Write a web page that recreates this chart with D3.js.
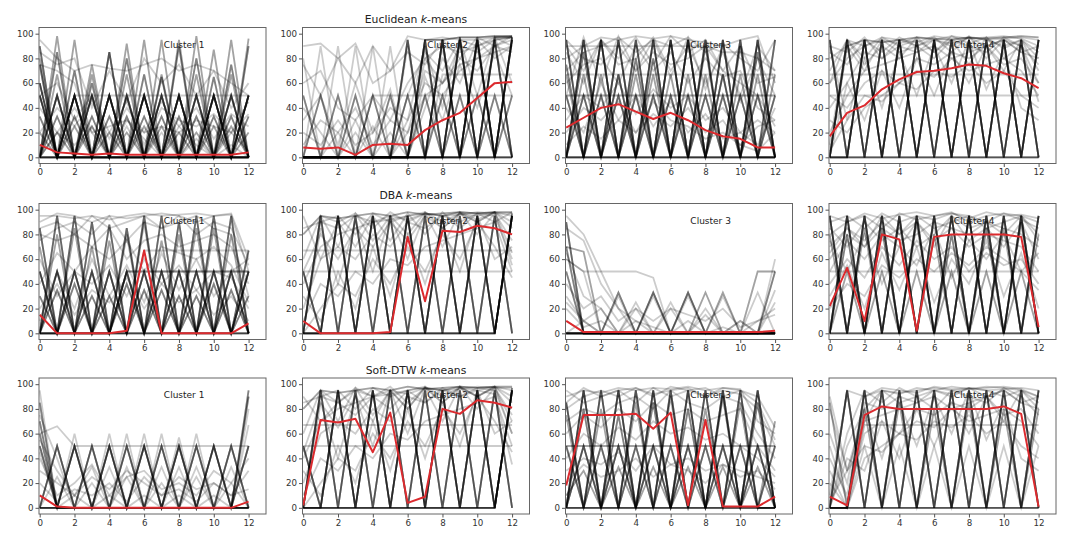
<!DOCTYPE html>
<html>
<head>
<meta charset="utf-8">
<script src="https://cdn.jsdelivr.net/npm/d3@7"></script>
<style>
  body { margin: 0; background: #fff; }
  text { font-family: "DejaVu Sans", sans-serif; }
</style>
</head>
<body>
<div id="chart"></div>
<script>
// time steps and tick labels
const steps = [0,1,2,3,4,5,6,7,8,9,10,11,12];
const xTicks = [0,2,4,6,8,10,12];
const yTicks = [0,20,40,60,80,100];
const rowNames = ["Euclidean", "DBA", "Soft-DTW"];
const clusterNames = ["Cluster 1", "Cluster 2", "Cluster 3", "Cluster 4"];

// shapes that many members share
const allZero = [0,0,0,0,0,0,0,0,0,0,0,0,0];
const allHalf = [50,50,50,50,50,50,50,50,50,50,50,50,50];
const allTwoThirds = [67,67,67,67,67,67,67,67,67,67,67,67,67];
const upZig95 = [0,95,0,95,0,95,0,95,0,95,0,95,0];
const downZig95 = [95,0,95,0,95,0,95,0,95,0,95,0,95];
const upZig50 = [0,50,0,50,0,50,0,50,0,50,0,50,0];
const downZig50 = [50,0,50,0,50,0,50,0,50,0,50,0,50];

// cluster members: n = how many series share the shape
const euclid1 = [
  {n:8, v:allZero}, {n:7, v:upZig50}, {n:7, v:downZig50},
  {n:4, v:[90,0,50,0,50,0,50,0,50,0,50,0,50]},
  {n:4, v:[75,0,0,0,0,0,0,0,0,0,0,0,0]},
  {n:3, v:[60,0,0,0,0,0,0,0,0,0,0,0,0]},
  {n:1, v:[0,0,50,50,50,50,50,50,50,50,50,50,50]},
  {n:2, v:[0,98,0,75,0,92,0,95,0,98,0,95,0]},
  {n:2, v:[80,0,95,0,85,0,95,0,95,0,87,0,96]},
  {n:3, v:[0,85,0,60,0,80,0,65,0,80,0,75,0]},
  {n:3, v:[60,0,70,0,85,0,67,0,90,0,65,0,90]},
  {n:2, v:[0,67,0,67,0,67,0,67,0,67,0,67,0]},
  {n:3, v:[0,33,0,33,0,33,0,33,0,33,0,33,0]},
  {n:3, v:[33,0,33,0,33,0,33,0,33,0,33,0,33]},
  {n:2, v:[0,20,0,25,0,20,0,25,0,20,0,25,0]},
  {n:2, v:[20,0,25,0,20,0,25,0,20,0,25,0,20]},
  {n:1, v:[40,20,40,20,25,30,20,25,20,30,25,20,35]},
  {n:1, v:[95,80,70,75,72,70,75,80,70,75,70,60,50]},
  {n:1, v:[75,70,60,20,0,25,0,20,0,15,0,10,0]},
  {n:1, v:[0,20,10,25,0,30,15,0,25,10,0,20,5]},
  {n:1, v:[50,60,30,50,20,45,10,40,30,25,35,20,45]},
  {n:1, v:[85,75,80,40,70,45,80,60,75,50,70,40,60]},
  {n:1, v:[20,40,25,45,15,40,20,45,25,40,15,35,25]}
];
const euclid2 = [
  {n:6, v:allZero},
  {n:5, v:[0,0,0,0,0,0,0,95,0,95,0,95,0]},
  {n:5, v:[0,0,0,0,0,0,95,0,95,0,95,0,95]},
  {n:3, v:[0,0,0,0,0,0,0,0,95,0,95,0,97]},
  {n:3, v:[0,0,0,0,0,0,0,0,0,97,0,97,97]},
  {n:3, v:[0,0,0,0,0,0,0,0,0,0,97,0,97]},
  {n:3, v:[0,0,0,0,0,0,0,95,95,97,97,98,98]},
  {n:3, v:downZig50}, {n:3, v:upZig50},
  {n:1, v:[80,0,90,0,90,0,90,0,90,0,90,0,95]},
  {n:1, v:[0,90,0,90,0,90,0,90,0,97,0,97,0]},
  {n:1, v:[90,92,80,92,60,70,98,95,97,95,95,97,98]},
  {n:1, v:[60,70,40,30,50,30,60,80,90,85,90,95,97]},
  {n:1, v:[20,10,30,10,20,40,30,60,50,70,80,85,90]},
  {n:1, v:[10,30,20,40,10,30,20,50,60,80,70,90,95]},
  {n:1, v:[0,0,0,30,0,0,20,70,60,75,80,90,85]},
  {n:1, v:[40,20,0,20,0,20,0,40,80,60,95,80,90]},
  {n:1, v:[0,0,20,0,25,0,30,90,40,95,50,97,60]},
  {n:1, v:[0,0,0,0,50,50,50,50,50,50,50,50,50]},
  {n:1, v:[0,0,0,0,0,0,0,0,67,67,67,67,67]},
  {n:1, v:[75,50,80,60,90,70,85,75,95,80,97,90,98]},
  {n:1, v:[30,50,10,60,20,55,0,65,30,75,40,85,50]},
  {n:1, v:[0,0,0,0,0,0,0,80,60,90,85,95,97]},
  {n:1, v:[0,0,0,0,0,0,50,85,70,95,90,97,90]}
];
const euclid3 = [
  {n:6, v:allZero}, {n:6, v:upZig95},
  {n:5, v:[95,0,95,0,95,0,95,0,95,0,95,0,0]},
  {n:4, v:upZig50}, {n:4, v:downZig50},
  {n:1, v:[90,90,90,90,90,90,90,90,90,85,85,80,70]},
  {n:1, v:allTwoThirds}, {n:2, v:allHalf},
  {n:1, v:[80,90,97,95,98,96,98,95,93,90,95,98,60]},
  {n:1, v:[70,85,90,97,85,95,90,97,85,92,80,70,95]},
  {n:1, v:[95,80,75,90,70,85,75,80,90,70,60,50,25]},
  {n:1, v:[60,75,80,60,90,70,85,60,80,65,70,40,30]},
  {n:1, v:[85,60,95,75,80,97,70,90,60,85,50,90,70]},
  {n:1, v:[30,50,40,60,35,55,40,50,30,40,20,30,20]},
  {n:1, v:[20,40,30,45,20,35,25,40,20,30,10,25,30]},
  {n:1, v:[40,20,60,30,50,25,45,20,35,15,20,10,40]},
  {n:1, v:[10,25,15,30,20,45,30,25,15,20,10,5,20]},
  {n:3, v:[0,85,0,67,0,80,0,95,0,67,0,85,0]},
  {n:3, v:[75,0,95,0,80,0,95,0,90,0,90,0,95]},
  {n:2, v:[0,67,0,67,0,67,0,67,0,67,0,67,0]},
  {n:2, v:[67,0,67,0,67,0,67,0,67,0,67,0,67]},
  {n:1, v:[0,0,0,0,0,0,0,0,0,0,0,0,95]},
  {n:1, v:[50,97,60,98,70,95,65,97,55,90,45,80,50]},
  {n:1, v:[90,70,95,80,97,75,98,85,95,70,90,60,65]}
];
const euclid4 = [
  {n:5, v:allZero}, {n:7, v:upZig95}, {n:6, v:downZig95},
  {n:2, v:[0,90,95,93,95,97,96,95,97,96,97,98,97]},
  {n:1, v:[10,95,90,97,95,93,98,96,97,95,96,97,95]},
  {n:1, v:[60,80,90,95,92,97,95,98,96,97,98,96,90]},
  {n:1, v:[40,60,85,80,90,85,95,90,97,95,90,95,85]},
  {n:1, v:[20,50,70,75,80,85,90,80,85,90,95,85,80]},
  {n:1, v:[80,90,70,95,85,90,80,95,90,85,97,90,75]},
  {n:1, v:[50,40,60,70,60,80,75,85,80,90,75,80,60]},
  {n:1, v:[30,20,40,50,60,70,65,80,70,75,80,70,50]},
  {n:1, v:allTwoThirds}, {n:1, v:allHalf},
  {n:1, v:[0,60,30,70,40,80,50,85,60,90,70,95,80]},
  {n:1, v:[90,30,80,40,85,50,90,60,95,55,85,40,30]},
  {n:1, v:[5,30,50,45,60,55,70,65,75,60,70,50,40]},
  {n:3, v:[0,0,95,0,95,0,95,0,95,0,95,0,95]},
  {n:1, v:[70,95,80,97,90,95,85,98,92,97,88,95,70]},
  {n:1, v:[85,75,95,85,97,90,95,92,97,90,95,85,90]},
  {n:1, v:[90,85,97,80,95,90,97,85,98,80,95,90,60]},
  {n:1, v:[60,95,75,90,80,97,85,95,75,97,80,90,45]}
];
const dba1 = [
  {n:6, v:allZero}, {n:6, v:upZig50}, {n:6, v:downZig50},
  {n:4, v:[0,95,0,90,0,85,0,95,0,95,0,95,0]},
  {n:4, v:[85,0,95,0,88,0,95,0,90,0,95,0,67]},
  {n:3, v:[0,0,0,0,0,50,50,50,50,50,50,50,50]},
  {n:1, v:[0,0,0,0,0,0,67,67,67,67,67,67,67]},
  {n:1, v:[95,95,93,95,92,95,97,95,96,97,95,97,60]},
  {n:1, v:[90,97,95,90,95,93,95,97,95,90,95,96,50]},
  {n:1, v:[80,75,80,70,85,60,75,80,70,75,80,70,40]},
  {n:3, v:[30,0,40,0,30,0,35,0,30,0,40,0,30]},
  {n:3, v:[0,35,0,30,0,40,0,35,0,30,0,35,0]},
  {n:1, v:[60,30,50,40,55,30,60,40,55,35,50,45,20]},
  {n:1, v:[20,40,15,35,25,45,20,40,25,35,15,30,10]},
  {n:2, v:[0,80,0,70,0,80,0,75,0,85,0,80,0]},
  {n:2, v:[70,0,85,0,75,0,90,0,80,0,85,0,50]},
  {n:1, v:[85,90,80,95,85,90,95,85,90,95,85,80,30]},
  {n:1, v:[40,65,50,70,60,75,50,70,65,60,70,55,25]},
  {n:1, v:[10,50,20,60,30,55,25,65,35,60,30,50,60]},
  {n:1, v:[75,85,90,80,95,75,90,85,95,80,90,85,55]}
];
const dba2 = [
  {n:7, v:[0,0,0,0,0,0,0,0,0,0,0,0,95]},
  {n:5, v:upZig95},
  {n:5, v:[50,0,95,0,95,0,95,0,95,0,95,0,95]},
  {n:3, v:[0,0,95,0,95,0,95,0,95,0,95,0,97]},
  {n:2, v:[80,95,93,95,97,95,98,96,97,98,97,98,98]},
  {n:1, v:[0,90,85,95,90,92,95,97,95,96,98,97,97]},
  {n:1, v:[40,70,80,85,90,95,92,97,95,98,97,98,95]},
  {n:1, v:[20,60,70,60,80,70,90,85,95,90,97,95,60]},
  {n:1, v:[10,40,30,50,40,60,55,70,75,80,85,90,50]},
  {n:1, v:[0,20,40,30,60,40,70,50,80,60,90,70,45]},
  {n:1, v:[30,10,50,20,70,30,80,40,85,50,95,60,70]},
  {n:1, v:allTwoThirds}, {n:1, v:allHalf},
  {n:1, v:[85,90,95,80,97,90,95,98,90,97,95,98,90]},
  {n:1, v:[60,95,70,97,75,95,80,98,85,97,90,98,85]},
  {n:1, v:[0,85,40,90,50,95,60,97,70,98,80,97,75]},
  {n:1, v:[95,60,90,70,95,75,97,80,98,85,97,90,98]},
  {n:1, v:[0,95,90,97,85,98,90,97,95,98,92,98,55]},
  {n:1, v:[50,80,60,85,70,90,75,95,85,97,90,98,65]}
];
const dba3 = [
  {n:4, v:allZero},
  {n:4, v:[90,0,0,0,0,0,0,0,0,0,0,0,0]},
  {n:3, v:[70,0,0,0,0,0,0,0,0,0,0,0,0]},
  {n:3, v:[50,0,0,0,0,0,0,0,0,0,0,0,0]},
  {n:1, v:[95,80,50,20,0,0,0,0,0,0,0,0,0]},
  {n:1, v:[85,75,40,20,10,0,0,0,0,0,0,0,0]},
  {n:2, v:[70,66,0,33,0,33,0,33,0,0,0,0,0]},
  {n:1, v:[60,50,0,33,0,33,0,33,0,33,0,0,0]},
  {n:1, v:[60,50,50,50,50,45,0,0,0,0,0,0,0]},
  {n:1, v:[0,0,0,0,0,33,0,33,0,33,0,0,0]},
  {n:2, v:[0,0,0,0,0,0,0,0,33,0,0,0,0]},
  {n:2, v:[0,0,0,0,0,0,0,0,0,0,0,50,50]},
  {n:3, v:[0,0,0,0,0,0,0,0,0,0,0,0,50]},
  {n:1, v:[0,0,0,0,0,0,0,0,0,0,0,33,0]},
  {n:1, v:[0,0,0,0,0,0,0,0,0,0,0,0,60]},
  {n:1, v:[40,20,30,10,20,10,20,15,10,20,5,10,20]},
  {n:1, v:[30,10,20,0,25,0,20,0,15,0,10,0,25]},
  {n:1, v:[0,10,0,30,0,30,0,30,0,30,0,0,0]},
  {n:1, v:[25,10,0,0,0,0,0,0,0,0,0,0,0]},
  {n:1, v:[65,30,20,0,20,0,25,0,20,0,10,0,35]},
  {n:1, v:[20,5,10,0,10,5,0,10,0,5,0,10,15]}
];
const dba4 = [
  {n:5, v:allZero}, {n:7, v:upZig95}, {n:7, v:downZig95}, {n:1, v:allHalf},
  {n:1, v:[90,95,85,97,90,95,92,97,95,90,97,95,90]},
  {n:1, v:[80,90,95,85,97,92,95,98,90,95,97,92,85]},
  {n:1, v:[70,85,75,90,80,95,85,90,95,85,90,95,80]},
  {n:1, v:[60,80,70,85,75,80,90,85,80,90,85,80,70]},
  {n:1, v:[85,70,90,75,85,70,80,95,75,85,70,90,60]},
  {n:1, v:[50,75,60,80,70,90,75,85,70,80,75,70,50]},
  {n:1, v:[40,60,45,70,55,75,60,70,50,65,55,60,40]},
  {n:1, v:[75,50,80,40,70,55,85,45,75,60,80,50,65]},
  {n:3, v:[0,80,0,85,0,90,0,80,0,85,0,90,0]},
  {n:2, v:[80,0,85,0,90,0,80,0,95,0,85,0,80]},
  {n:2, v:[0,50,0,50,0,50,0,50,0,50,0,50,0]},
  {n:1, v:[30,55,20,65,35,70,25,60,40,75,30,65,20]},
  {n:1, v:[95,90,97,93,96,98,95,97,93,98,95,96,93]},
  {n:1, v:[20,40,30,55,45,60,50,65,55,70,60,50,35]},
  {n:1, v:[65,85,70,95,80,90,70,95,85,90,80,95,75]}
];
const soft1 = [
  {n:5, v:allZero},
  {n:3, v:[85,0,50,0,50,0,50,0,50,0,50,0,95]},
  {n:5, v:upZig50}, {n:4, v:downZig50},
  {n:3, v:[70,0,0,0,0,0,0,0,0,0,0,0,90]},
  {n:3, v:[60,0,0,0,0,0,0,0,0,0,0,0,0]},
  {n:1, v:[95,0,0,0,0,0,0,0,0,0,0,0,0]},
  {n:1, v:[60,66,50,50,50,50,50,50,50,50,50,50,50]},
  {n:1, v:[0,0,60,0,60,0,60,0,57,0,0,0,0]},
  {n:1, v:[0,0,0,0,0,60,0,60,0,60,0,0,0]},
  {n:1, v:[30,20,10,25,15,30,20,10,25,15,20,10,30]},
  {n:1, v:[40,10,20,35,10,25,30,15,20,10,30,20,40]},
  {n:1, v:[20,5,15,10,20,5,25,10,15,5,20,10,15]},
  {n:1, v:[55,30,10,33,0,33,0,33,0,33,0,33,0]},
  {n:1, v:[0,0,0,0,33,0,0,0,33,0,0,0,67]},
  {n:1, v:[75,40,0,0,0,0,0,0,0,0,0,0,80]},
  {n:1, v:[45,0,10,0,10,0,10,0,10,0,10,0,50]},
  {n:1, v:[0,25,0,20,0,25,0,20,0,25,0,20,0]}
];
const soft2 = [
  {n:7, v:[0,0,0,0,0,0,0,0,0,0,0,0,95]},
  {n:5, v:upZig95},
  {n:5, v:[50,0,95,0,95,0,95,0,95,0,95,0,95]},
  {n:3, v:[0,0,95,0,95,0,95,0,95,0,95,0,97]},
  {n:2, v:[80,95,93,95,97,95,98,96,97,98,97,98,98]},
  {n:1, v:[0,90,85,95,90,92,95,97,95,96,98,97,97]},
  {n:1, v:[40,70,80,85,90,95,92,97,95,98,97,98,95]},
  {n:1, v:[20,60,70,60,80,70,90,85,95,90,97,95,60]},
  {n:1, v:[10,40,30,50,40,60,55,70,75,80,85,90,50]},
  {n:1, v:[0,20,40,30,60,40,70,50,80,60,90,70,45]},
  {n:1, v:[30,10,50,20,70,30,80,40,85,50,95,60,70]},
  {n:1, v:allTwoThirds}, {n:1, v:allHalf},
  {n:1, v:[85,90,95,80,97,90,95,98,90,97,95,98,90]},
  {n:1, v:[60,95,70,97,75,95,80,98,85,97,90,98,85]},
  {n:1, v:[0,85,40,90,50,95,60,97,70,98,80,97,75]},
  {n:1, v:[90,70,85,75,90,80,95,85,97,90,95,92,35]},
  {n:1, v:[0,95,85,97,90,98,85,97,95,98,90,98,60]},
  {n:1, v:[45,85,65,90,70,95,80,97,85,98,90,97,70]}
];
const soft3 = [
  {n:6, v:allZero}, {n:6, v:upZig95},
  {n:5, v:[85,0,95,0,95,0,95,0,95,0,95,0,0]},
  {n:5, v:upZig50}, {n:4, v:downZig50}, {n:2, v:allHalf},
  {n:1, v:[90,95,93,97,95,97,96,98,95,97,96,70,60]},
  {n:1, v:[80,90,95,90,97,92,95,97,90,95,92,80,50]},
  {n:1, v:[95,85,90,95,85,97,90,95,97,90,95,90,65]},
  {n:1, v:[70,80,75,85,90,80,95,85,80,90,85,60,40]},
  {n:1, v:[60,75,65,80,70,85,75,80,70,75,80,50,30]},
  {n:1, v:[40,60,50,65,55,70,60,65,55,60,50,40,25]},
  {n:1, v:[30,40,35,45,30,50,35,40,30,35,30,25,20]},
  {n:3, v:[0,80,0,75,0,85,0,80,0,90,0,85,0]},
  {n:2, v:[75,0,80,0,85,0,90,0,80,0,85,0,70]},
  {n:1, v:[20,35,25,30,40,25,35,30,20,35,25,30,15]},
  {n:2, v:[10,30,0,33,0,33,0,33,0,33,0,33,0]},
  {n:1, v:[85,97,90,95,97,90,98,95,90,97,95,85,55]}
];
const soft4 = [
  {n:5, v:allZero},
  {n:6, v:[0,0,95,0,95,0,95,0,95,0,95,0,95]},
  {n:6, v:upZig95},
  {n:2, v:[85,0,80,0,85,0,80,0,85,0,80,0,80]},
  {n:1, v:[0,50,80,95,93,95,97,95,96,98,97,95,90]},
  {n:1, v:[10,95,90,97,95,93,98,96,97,95,96,97,95]},
  {n:1, v:[60,20,90,95,92,97,95,98,96,97,98,96,90]},
  {n:1, v:[40,10,85,80,90,85,95,90,97,95,90,95,85]},
  {n:1, v:[20,0,70,75,80,85,90,80,85,90,95,85,80]},
  {n:1, v:[80,30,70,95,85,90,80,95,90,85,97,90,75]},
  {n:1, v:[50,5,60,70,60,80,75,85,80,90,75,80,60]},
  {n:1, v:[30,0,40,50,60,70,65,80,70,75,80,70,50]},
  {n:1, v:[0,0,67,67,67,67,67,67,67,67,67,67,67]},
  {n:1, v:[0,40,30,70,40,80,50,85,60,90,70,95,80]},
  {n:1, v:[90,30,80,40,85,50,90,60,95,55,85,40,30]},
  {n:1, v:[5,30,50,45,60,55,70,65,75,60,70,50,40]},
  {n:1, v:[0,60,95,85,97,90,95,92,97,90,95,85,90]},
  {n:1, v:[0,0,50,0,50,0,50,0,50,0,50,0,50]}
];

// cluster centres (red)
const euclidCentres = [
  [10,4,3,2,3,2,2,2,2,2,2,2,4],
  [8,7,8,2,10,11,10,22,30,36,48,60,61],
  [24,32,40,43,37,31,36,30,22,17,15,8,8],
  [17,36,42,55,63,69,70,72,75,74,68,64,56]
];
const dbaCentres = [
  [15,0,0,0,0,2,67,0,0,0,0,0,8],
  [10,0,0,0,0,1,78,26,83,82,87,85,80],
  [10,1,1,1,1,1,1,1,1,1,1,1,2],
  [22,53,10,80,76,2,78,80,80,80,80,78,5]
];
const softCentres = [
  [10,1,0,0,0,0,0,0,0,0,0,0,5],
  [2,71,69,72,45,77,4,9,80,76,87,85,81],
  [18,75,75,75,76,64,77,2,71,1,1,1,9],
  [9,2,75,82,80,80,80,80,80,80,82,76,1]
];

const members = [
  [euclid1, euclid2, euclid3, euclid4],
  [dba1, dba2, dba3, dba4],
  [soft1, soft2, soft3, soft4]
];
const centres = [euclidCentres, dbaCentres, softCentres];

// layout
const colLeft = [39, 302.5, 565.5, 829];
const rowTop = [27.5, 203.5, 378];
const panelW = 227, panelH = 136;

const svg = d3.select("#chart").append("svg")
    .attr("width", 1076)
    .attr("height", 546)
    .style("background", "#fff");

const x = d3.scaleLinear().domain([-0.04, 13]).range([0, panelW]);
const y = d3.scaleLinear().domain([-5, 105]).range([panelH, 0]);

const line = d3.line()
    .x((d, i) => x(steps[i]))
    .y(d => y(d));

rowNames.forEach((name, r) => {
  // row title over the second column
  const title = svg.append("text")
      .attr("x", colLeft[1] + panelW / 2)
      .attr("y", rowTop[r] - 4.5)
      .attr("text-anchor", "middle")
      .style("font-size", "10.8px")
      .style("fill", "#222");
  title.append("tspan").text(name + " ");
  title.append("tspan").style("font-style", "italic").text("k");
  title.append("tspan").text("-means");

  clusterNames.forEach((cname, c) => {
    const g = svg.append("g")
        .attr("transform", `translate(${colLeft[c]},${rowTop[r]})`);

    const clipId = `clip-${r}-${c}`;
    g.append("clipPath").attr("id", clipId)
      .append("rect").attr("width", panelW).attr("height", panelH);

    const plot = g.append("g").attr("clip-path", `url(#${clipId})`);

    // gray members
    members[r][c].forEach(m => {
      for (let k = 0; k < m.n; k++) {
        plot.append("path")
            .attr("d", line(m.v))
            .attr("fill", "none")
            .attr("stroke", "#000")
            .attr("stroke-opacity", 0.2)
            .attr("stroke-width", 1.8);
      }
    });

    // centre
    plot.append("path")
        .attr("d", line(centres[r][c]))
        .attr("fill", "none")
        .attr("stroke", "#dc2a2e")
        .attr("stroke-width", 2)
        .attr("stroke-linejoin", "round");

    // frame
    g.append("rect")
        .attr("width", panelW)
        .attr("height", panelH)
        .attr("fill", "none")
        .attr("stroke", "#666")
        .attr("stroke-width", 1);

    // axes
    const xAxis = g.append("g")
        .attr("transform", `translate(0,${panelH})`)
        .call(d3.axisBottom(x).tickValues(xTicks).tickSize(3.5).tickPadding(2));
    const yAxis = g.append("g")
        .call(d3.axisLeft(y).tickValues(yTicks).tickSize(3.5).tickPadding(2));
    [xAxis, yAxis].forEach(a => {
      a.select(".domain").remove();
      a.selectAll("line").attr("stroke", "#555");
      a.selectAll("text")
          .style("font-size", "8.7px")
          .style("font-family", "DejaVu Sans")
          .attr("fill", "#333");
    });

    // cluster label
    g.append("text")
        .attr("x", panelW * 0.55)
        .attr("y", panelH * 0.15)
        .style("font-size", "9px")
        .style("fill", "#222")
        .text(cname);
  });
});
</script>
</body>
</html>
